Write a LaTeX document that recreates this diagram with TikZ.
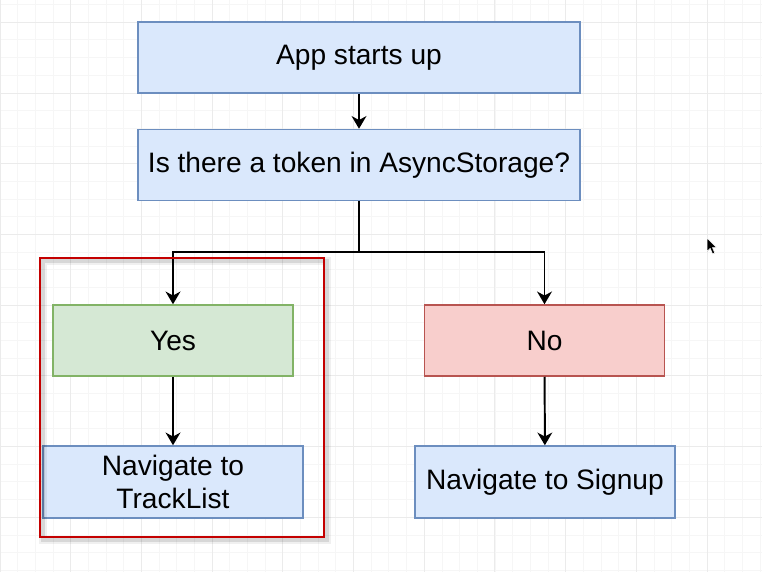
\documentclass[tikz,border=0pt]{standalone}
\usepackage{fontspec}
\setmainfont{Liberation Sans}
\usetikzlibrary{arrows.meta, positioning}
\definecolor{boxblue}{HTML}{DAE8FC}
\definecolor{lineblue}{HTML}{6C8EBF}
\definecolor{boxgreen}{HTML}{D5E8D4}
\definecolor{linegreen}{HTML}{82B366}
\definecolor{boxred}{HTML}{F8CECC}
\definecolor{linered}{HTML}{B85450}
\definecolor{framered}{HTML}{C40000}
\definecolor{gridminor}{HTML}{F6F6F6}
\definecolor{gridmajor}{HTML}{EBEBEB}
\tikzset{
    flowbox/.style={draw, rectangle, line width=1.05pt, align=center, inner sep=0pt,
        font=\fontsize{20}{24}\selectfont, minimum height=1.775cm},
    bluebox/.style={flowbox, fill=boxblue, draw=lineblue},
    greenbox/.style={flowbox, fill=boxgreen, draw=linegreen, minimum width=6cm},
    redbox/.style={flowbox, fill=boxred, draw=linered, minimum width=6cm},
    navbox/.style={bluebox, minimum width=6.5cm, minimum height=1.8cm},
    wire/.style={line width=1.4pt},
}

\begin{document}
\begin{tikzpicture}[x=0.025cm, y=-0.025cm, >={Stealth[length=9pt, width=10.5pt, inset=2.8pt]}]
    \useasboundingbox[fill=white] (0,0) rectangle (762,572);
    % background grid
    \foreach \i in {0,...,43}
        \draw[gridminor, line width=.7pt] ({\i*17.68},0) -- ({\i*17.68},572);
    \foreach \j in {-1,...,31}
        \draw[gridminor, line width=.7pt] (0,{22.3+\j*17.68}) -- (762,{22.3+\j*17.68});
    \foreach \i in {0,...,10}
        \draw[gridmajor, line width=.7pt] ({\i*70.7},0) -- ({\i*70.7},572);
    \foreach \j in {0,...,7}
        \draw[gridmajor, line width=.7pt] (0,{22.3+\j*70.7}) -- (762,{22.3+\j*70.7});

    \node[bluebox, minimum width=11.05cm] (start) at (359,57.5) {App starts up};
    \node[bluebox, minimum width=11.05cm, below=0.875cm of start] (token) {Is there a token in AsyncStorage?};
    \node[greenbox] (yes) at (173,340.5) {Yes};
    \node[redbox] (no) at (544.5,340.5) {No};
    \node[navbox] (tracklist) at (173,482) {Navigate to\\TrackList};
    \node[navbox] (signup) at (545,482) {Navigate to Signup};

    \coordinate (split) at (359,252);
    \draw[wire, ->] (start) -- (token);
    \draw[wire] (token) -- (split);
    \draw[wire, ->] (split) -| (yes);
    \draw[wire, ->] (split) -| (no);
    \draw[wire, ->] (yes) -- (tracklist);
    \draw[wire, ->] (no) -- (signup);

    % highlight frame with its shadow
    \draw[black, opacity=.06, line width=6pt] (43,261) rectangle (327,540);
    \draw[black, opacity=.10, line width=3pt] (43,261) rectangle (327,540);
    \draw[framered, line width=1.8pt] (40,258) rectangle (324,537);

    % mouse pointer
    \filldraw[black, draw=white, line width=.4pt, line join=round]
        (707,238) -- (707,251.5) -- (710.2,248.4) -- (712.6,254) -- (714.8,253) -- (712.4,247.6) -- (716.6,247.6) -- cycle;
\end{tikzpicture}
\end{document}
